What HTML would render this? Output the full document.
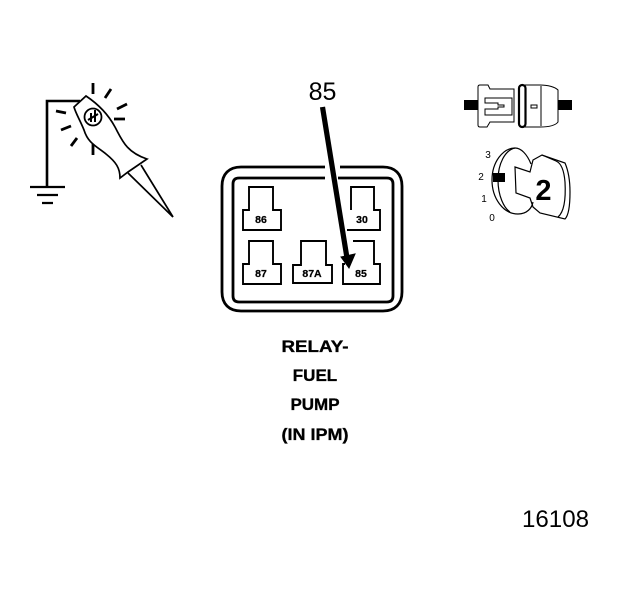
<!DOCTYPE html>
<html>
<head>
<meta charset="utf-8">
<style>
html,body{margin:0;padding:0;background:#fff;width:624px;height:600px;overflow:hidden}
svg{display:block}
text{font-family:"Liberation Sans",Arial,sans-serif;fill:#000}
</style>
</head>
<body>
<svg width="624" height="600" viewBox="0 0 624 600" xmlns="http://www.w3.org/2000/svg">
<rect width="624" height="600" fill="#fff"/>

<!-- ground + wire -->
<g fill="none" stroke="#000" stroke-width="2.2">
<path d="M80 101H47V187" stroke-width="2.6"/>
<path d="M30 187H65M37 195H58M42 203H53"/>
</g>
<!-- rays -->
<g stroke="#000" stroke-width="2.8" fill="none">
<path d="M93 83V94M111 89L105 98M127 104L117 109M114 119H125M56 111L66 113M61 130L71 126M71 146L77 138M93 144V155"/>
</g>
<!-- probe -->
<g fill="none" stroke="#000" stroke-width="1.7">
<path d="M74 107L86 96C98 104 108 114 115 127C122 140 126 152 147 159L128 172L120 178C120 168 116 162 106 154C96 146 88 143 84 130C80 120 76 114 74 107Z"/>
<path d="M141 165L173 217L128 173"/>
<circle cx="93" cy="117" r="8.5" stroke-width="1.8"/>
<path d="M91 122V113M95 122V110M88 120L98 114" stroke-width="2"/>
</g>

<!-- relay outline -->
<g fill="none" stroke="#000" stroke-width="2.8">
<path d="M325 167H241C229 167 222 174 222 186V292C222 304 229 311 241 311H383C395 311 402 304 402 292V186C402 174 395 167 383 167H340"/>
<path d="M325 178H239C235 178 233 180 233 184V296C233 300 235 302 239 302H387C391 302 393 300 393 296V184C393 180 391 178 387 178H338"/>
</g>
<!-- terminals -->
<g fill="none" stroke="#000" stroke-width="1.9">
<path d="M249 210V187H273V210H281V230H243V210Z"/>
<path d="M351 210V187H374V210H380V230H347"/>
<path d="M249 264V241H273V264H281V284H243V264Z"/>
<path d="M301 265V241H326V265H332V283H293V265Z"/>
<path d="M353 241H374V264H380V284H343V264H345"/>
</g>
<g font-weight="bold" font-size="10.5" text-anchor="middle" stroke="#000" stroke-width="0.25">
<text x="261" y="223">86</text>
<text x="362" y="223">30</text>
<text x="261" y="277">87</text>
<text x="312" y="277">87A</text>
<text x="361" y="277">85</text>
</g>

<!-- arrow -->
<path d="M322.5 107L347 258" stroke="#000" stroke-width="5.2" fill="none"/>
<path d="M341 257L355 254L349 268Z" fill="#000" stroke="#000" stroke-width="1"/>
<text x="322.5" y="100" font-size="25" text-anchor="middle">85</text>

<!-- labels -->
<g font-weight="bold" font-size="17" text-anchor="middle" stroke="#000" stroke-width="0.35">
<text x="315" y="352" textLength="67" lengthAdjust="spacingAndGlyphs">RELAY-</text>
<text x="315" y="381">FUEL</text>
<text x="315" y="410">PUMP</text>
<text x="315" y="440" textLength="67" lengthAdjust="spacingAndGlyphs">(IN IPM)</text>
</g>
<text x="522" y="527" font-size="24" textLength="67" lengthAdjust="spacingAndGlyphs">16108</text>

<!-- connector -->
<rect x="464" y="100" width="14" height="10" fill="#000"/>
<rect x="558" y="100" width="14" height="10" fill="#000"/>
<g fill="none" stroke="#000" stroke-width="1">
<path d="M478 87Q478 85 480 85H488L490 89H514V122H490L487 127H480Q478 127 478 125Z"/>
<path d="M485 98H512V115H485V109H498V107H504V105H498V103H485Z"/>
<path d="M524 85H540C548 85 555 87 558 90V122C555 126 548 127 540 127H524"/>
<path d="M541 86V126"/>
<path d="M531 105H537V108H531Z"/>
</g>
<rect x="519" y="85" width="6.5" height="42" rx="3.2" fill="none" stroke="#000" stroke-width="2.2"/>

<!-- key -->
<g fill="none" stroke="#000" stroke-width="1.2">
<path d="M531 164C527 154 521 148 515 148C503 148 492 162 492 180C492 198 503 214 518 214C527 214 532 208 533 202"/>
<path d="M515 148C505 150 498 164 498 180C498 196 504 208 510 212"/>
<path d="M515 167L530 172L533 160L542 155L565 163C568 170 570 180 570 192C570 205 569 215 565 219L540 213L533 207L530 198L516 193Z"/>
<path d="M542 155L556 161C561 163 564 170 565 182C566 200 564 212 558 217"/>
</g>
<rect x="493" y="173" width="12" height="9" fill="#000"/>
<text x="543.5" y="200" font-size="29" font-weight="bold" text-anchor="middle">2</text>
<g font-size="10" text-anchor="middle">
<text x="488" y="158">3</text>
<text x="481" y="180">2</text>
<text x="484" y="202">1</text>
<text x="492" y="221">0</text>
</g>
</svg>
</body>
</html>
